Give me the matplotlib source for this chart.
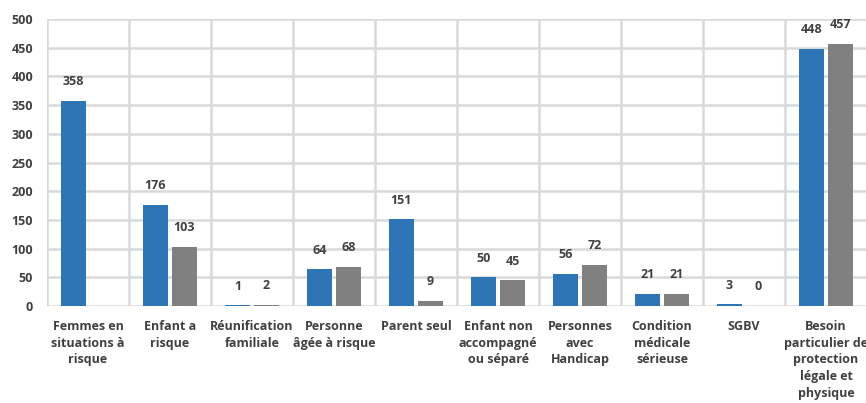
import numpy as np
import matplotlib.pyplot as plt

categories = ['Femmes en\nsituations à\nrisque', 'Enfant a\nrisque', 'Réunification\nfamiliale',
              'Personne\nâgée à risque', 'Parent seul', 'Enfant non\naccompagné\nou séparé',
              'Personnes\navec\nHandicap', 'Condition\nmédicale\nsérieuse', 'SGBV',
              'Besoin\nparticulier de\nprotection\nlégale et\nphysique']
serie1 = [358, 176, 1, 64, 151, 50, 56, 21, 3, 448]
serie2 = [None, 103, 2, 68, 9, 45, 72, 21, 0, 457]

plt.rcParams['font.family'] = ['Open Sans', 'DejaVu Sans']
txt = '#404040'
fs = 9

fig = plt.figure(figsize=(8.66, 4.03), dpi=100)
ax = fig.add_axes([47/866, 97/403, 820/866, 287/403])

x = np.arange(len(categories))
w = 0.305
v2 = [0 if v is None else v for v in serie2]
ax.bar(x - 0.177, serie1, w, color='#2E75B6', zorder=3)
ax.bar(x + 0.177, v2, w, color='#808080', zorder=3)

for i in range(len(x)):
    ax.annotate(str(serie1[i]), (x[i] - 0.177, serie1[i]), xytext=(0, 9), textcoords='offset points',
                ha='center', va='bottom', fontsize=fs, fontweight='bold', color=txt)
    if serie2[i] is not None:
        ax.annotate(str(serie2[i]), (x[i] + 0.177, serie2[i]), xytext=(0, 9), textcoords='offset points',
                    ha='center', va='bottom', fontsize=fs, fontweight='bold', color=txt)

ax.set_xlim(-0.5, len(categories) - 0.5)
ax.set_ylim(0, 500)
ax.set_yticks(range(0, 501, 50))
ax.set_xticks(x)
ax.set_xticklabels(categories, fontsize=fs, fontweight='bold', color=txt, linespacing=1.38, va='top')
ax.set_xticks(np.arange(-0.5, len(categories), 1), minor=True)
for lab in ax.get_yticklabels():
    lab.set_fontweight('bold')
    lab.set_color(txt)
    lab.set_fontsize(fs)
ax.tick_params(axis='both', which='both', length=0)
ax.tick_params(axis='x', pad=10)
ax.tick_params(axis='y', pad=10)
ax.grid(True, axis='y', color='#d9d9d9', linewidth=1.8, zorder=0)
ax.grid(True, axis='x', which='minor', color='#d9d9d9', linewidth=1.8, zorder=0)
ax.grid(False, axis='x', which='major')
for s in ax.spines.values():
    s.set_visible(False)

fig.savefig('out.png', dpi=100)
